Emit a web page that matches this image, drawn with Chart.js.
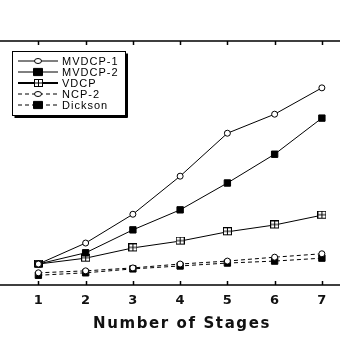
<!DOCTYPE html>
<html>
<head>
<meta charset="utf-8">
<script src="https://cdn.jsdelivr.net/npm/chart.js@4"></script>
<style>
  html, body { margin: 0; padding: 0; background: #fff; }
  #wrap { width: 340px; height: 340px; }
</style>
</head>
<body>
<div id="wrap"><canvas id="chart" width="340" height="340"></canvas></div>
<script>
// data
const stages = [1, 2, 3, 4, 5, 6, 7];
const tickLabels = ['1', '2', '3', '4', '5', '6', '7'];
const seriesNames = ['MVDCP-1', 'MVDCP-2', 'VDCP', 'NCP-2', 'Dickson'];
const mvdcp1 = [4.3, 8.6, 14.5, 22.3, 31.1, 35.0, 40.4];
const mvdcp2 = [4.3, 6.6, 11.3, 15.4, 20.9, 26.8, 34.2];
const vdcp = [4.3, 5.5, 7.6, 9.0, 10.9, 12.3, 14.3];
const ncp2 = [2.5, 2.9, 3.5, 4.3, 4.9, 5.7, 6.4];
const dickson = [2.0, 2.5, 3.3, 3.9, 4.5, 4.9, 5.5];
const xTitle = 'Number of Stages';

// little square with a plus in it, for VDCP
function boxPlus() {
    const c = document.createElement('canvas');
    c.width = 9; c.height = 9;
    const g = c.getContext('2d');
    g.fillStyle = '#fff';
    g.fillRect(0, 0, 9, 9);
    g.strokeStyle = '#000';
    g.lineWidth = 1;
    g.strokeRect(0.5, 0.5, 8, 7);
    g.beginPath();
    g.moveTo(4.5, 0.5); g.lineTo(4.5, 7.5);
    g.moveTo(0.5, 4); g.lineTo(8.5, 4);
    g.stroke();
    return c;
}

function makeSet(label, values, style, opts) {
    return Object.assign({
        label: label,
        data: values.map((v, i) => ({ x: stages[i], y: v })),
        borderColor: '#000',
        backgroundColor: '#000',
        borderWidth: 1,
        pointStyle: style,
        pointRadius: 3.5,
        pointBorderWidth: 1,
        pointBorderColor: '#000',
        tension: 0
    }, opts || {});
}

const datasets = [
    makeSet(seriesNames[0], mvdcp1, 'circle', { pointBackgroundColor: '#fff', pointRadius: 3 }),
    makeSet(seriesNames[1], mvdcp2, 'rect', { pointBackgroundColor: '#000', pointRadius: 4.5 }),
    makeSet(seriesNames[2], vdcp, boxPlus(), {}),
    makeSet(seriesNames[3], ncp2, 'circle', { pointBackgroundColor: '#fff', pointRadius: 3, borderDash: [4, 3] }),
    makeSet(seriesNames[4], dickson, 'rect', { pointBackgroundColor: '#000', pointRadius: 4.5, borderDash: [4, 3] })
];

// frame lines top and bottom with inward ticks, wide bold labels, boxed legend
const framePlugin = {
    id: 'frame',
    afterDraw(chart) {
        const ctx = chart.ctx;
        const area = chart.chartArea;
        const xs = chart.scales.x;
        ctx.save();
        ctx.strokeStyle = '#000';
        ctx.lineWidth = 1.5;
        ctx.beginPath();
        ctx.moveTo(0, area.top); ctx.lineTo(340, area.top);
        ctx.moveTo(0, area.bottom); ctx.lineTo(340, area.bottom);
        stages.forEach(s => {
            const px = Math.round(xs.getPixelForValue(s)) + 0.5;
            ctx.moveTo(px, area.top); ctx.lineTo(px, area.top + 4);
            ctx.moveTo(px, area.bottom); ctx.lineTo(px, area.bottom - 4);
        });
        ctx.stroke();

        // tick labels and axis title
        ctx.fillStyle = '#111';
        ctx.textAlign = 'center';
        ctx.textBaseline = 'alphabetic';
        ctx.font = 'bold 13px "DejaVu Sans", sans-serif';
        stages.forEach((s, i) => {
            ctx.fillText(tickLabels[i], xs.getPixelForValue(s), area.bottom + 19);
        });
        ctx.font = 'bold 15px "DejaVu Sans", sans-serif';
        ctx.letterSpacing = '1.6px';
        ctx.fillText(xTitle, 182, 328);
        ctx.letterSpacing = '0px';

        // legend box
        const bx = 12.5, by = 51.5, bw = 113, bh = 64;
        ctx.fillStyle = '#fff';
        ctx.fillRect(bx, by, bw, bh);
        ctx.fillStyle = '#000';
        ctx.fillRect(bx + bw, by + 2, 2.5, bh);
        ctx.fillRect(bx + 2, by + bh, bw, 2.5);
        ctx.lineWidth = 1;
        ctx.strokeRect(bx, by, bw, bh);

        ctx.textAlign = 'left';
        ctx.font = '11px "Liberation Sans", Arial, sans-serif';
        ctx.letterSpacing = '1px';
        ctx.textBaseline = 'middle';
        chart.data.datasets.forEach((ds, i) => {
            const y = 61 + i * 11;
            ctx.save();
            ctx.strokeStyle = '#000';
            ctx.lineWidth = i === 2 ? 2 : 1;
            ctx.setLineDash(ds.borderDash || []);
            ctx.beginPath();
            ctx.moveTo(18, y); ctx.lineTo(58, y);
            ctx.stroke();
            ctx.restore();
            const ps = ds.pointStyle;
            if (ps instanceof HTMLCanvasElement) {
                ctx.drawImage(ps, 38 - 4, y - 4);
            } else {
                ctx.fillStyle = ds.pointBackgroundColor;
                ctx.strokeStyle = '#000';
                ctx.beginPath();
                if (ps === 'circle') {
                    ctx.ellipse(38, y, ds.pointRadius + 0.5, ds.pointRadius - 0.5, 0, 0, Math.PI * 2);
                } else {
                    ctx.rect(38 - ds.pointRadius, y - ds.pointRadius * 0.8, ds.pointRadius * 2, ds.pointRadius * 1.6);
                }
                ctx.fill();
                ctx.stroke();
            }
            ctx.fillStyle = '#000';
            ctx.fillText(ds.label, 62, y + 0.5);
        });
        ctx.restore();
    }
};

new Chart(document.getElementById('chart').getContext('2d'), {
    type: 'line',
    data: { datasets: datasets },
    options: {
        responsive: false,
        animation: false,
        layout: { padding: { top: 41, left: 0, right: 0, bottom: 0 } },
        plugins: {
            legend: { display: false },
            tooltip: { enabled: false }
        },
        scales: {
            x: {
                type: 'linear',
                min: 0.304,
                max: 7.267,
                afterBuildTicks: scale => {
                    scale.ticks = stages.map(v => ({ value: v }));
                },
                afterFit: scale => { scale.height = 55; },
                grid: { display: false, drawTicks: false },
                border: { display: false },
                ticks: { display: false }
            },
            y: {
                display: false,
                min: 0,
                max: 50
            }
        }
    },
    plugins: [framePlugin]
});
</script>
</body>
</html>
